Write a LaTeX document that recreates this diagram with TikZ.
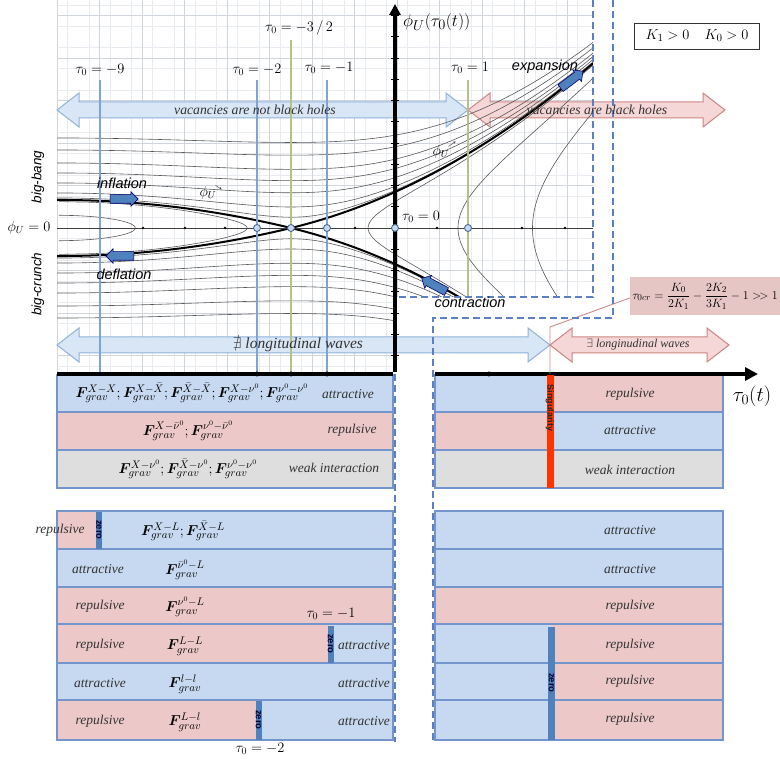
\documentclass[tikz,border=0pt]{standalone}
\usepackage{amsmath,amssymb,bm}
\usepackage{fontspec}
\setmainfont{Liberation Serif}
\setsansfont{Liberation Sans}
\usetikzlibrary{arrows.meta,shapes.arrows}
\definecolor{bluef}{HTML}{C6D9F0}
\definecolor{pinkf}{HTML}{EDC8C8}
\definecolor{grayf}{HTML}{DEDEDE}
\definecolor{rowline}{HTML}{7495CB}
\definecolor{zerob}{HTML}{4F81BD}
\definecolor{dashb}{HTML}{5B7FC4}
\definecolor{vblue}{HTML}{7FA3D3}
\definecolor{volive}{HTML}{B4C28A}
\definecolor{arrbf}{HTML}{D9E6F5}
\definecolor{arrbd}{HTML}{8FB2DC}
\definecolor{arrpf}{HTML}{F4D7D6}
\definecolor{arrpd}{HTML}{CB8683}
\definecolor{boxp}{HTML}{E6C6C5}
\definecolor{leadc}{HTML}{C98A86}
\definecolor{gridmin}{HTML}{E8EBF0}
\definecolor{gridmaj}{HTML}{D0D5DC}
\definecolor{flowarr}{HTML}{4F81BD}
\definecolor{txt}{HTML}{333333}
\definecolor{circd}{HTML}{4A6A9A}
\definecolor{singred}{HTML}{FF3300}
\newcommand\DArrow[4]{%
 \draw[#1] (#2,#4) -- ++(22,-17) -- ++(0,9) -- ({#3-22},{#4-8}) -- ++(0,-9) -- (#3,#4)
   -- ++(-22,17) -- ++(0,-9) -- ({#2+22},{#4+8}) -- ++(0,9) -- cycle;}
\begin{document}
\begin{tikzpicture}[x=1pt,y=-1pt,
  declare function={Sf(\w)=2.415*\w+(0.52+0.486*(\w>0))*\w*\w;
    wR(\s)=(-2.415+sqrt(5.832+4.024*\s))/2.012;
    wL(\s)=(-2.415+sqrt(max(5.832+2.08*\s,0)))/1.04;},
  flow/.style={draw=black!65, line width=0.6},
  sepx/.style={draw=black, line width=2},
  gmin/.style={draw=gridmin, line width=0.5},
  gmaj/.style={draw=gridmaj, line width=0.7},
  vb/.style={draw=vblue, line width=1.4},
  vo/.style={draw=volive, line width=1.4},
  dsh/.style={draw=dashb, line width=1.8, dash pattern=on 7pt off 4pt},
  cell/.style={draw=rowline, line width=1.1},
  arrb/.style={draw=arrbd, fill=arrbf, line width=1},
  arrp/.style={draw=arrpd, fill=arrpf, line width=1},
  atxt/.style={font=\itshape\fontsize{13.7}{15}\selectfont, text=txt, inner sep=0},
  ltxt/.style={font=\itshape\fontsize{13.5}{15}\selectfont, text=txt, inner sep=0},
  ftxt/.style={font=\fontsize{15}{17}\selectfont, inner sep=0},
  stxt/.style={font=\sffamily\itshape\fontsize{14.5}{16}\selectfont, inner sep=0},
  ztxt/.style={font=\sffamily\bfseries\fontsize{9.5}{10}\selectfont, text=black!80!blue, rotate=-90, inner sep=0},
  tlab/.style={font=\fontsize{14.5}{16}\selectfont, inner sep=0},
  circ/.style={circle, draw=circd, fill=bluef, line width=0.9, minimum size=7pt, inner sep=0},
  dotn/.style={circle, fill=black, minimum size=3pt, inner sep=0},
  farr/.style={single arrow, draw=blue!45!black, fill=flowarr, line width=0.6, minimum height=28pt, inner xsep=0pt, inner ysep=4pt, single arrow head extend=3pt}
]
\useasboundingbox (0,0) rectangle (780,759);
\fill[white] (0,0) rectangle (780,759);

% ---------- grid ----------
\begin{scope}
\clip (57,0) -- (593,0) -- (593,297) -- (395,297) -- (395,372) -- (57,372) -- cycle;
\foreach \i in {0,...,25} \draw[gmin] ({57+21.25*\i+10.625},0) -- ++(0,372);
\foreach \j in {-11,...,7} \draw[gmin] (57,{228+21.25*\j+10.625}) -- (593,{228+21.25*\j+10.625});
\foreach \i in {0,...,13} \draw[gmaj] ({57+42.5*\i},0) -- ++(0,372);
\foreach \j in {-6,...,4} \draw[gmaj] (57,{228+42.5*\j}) -- (593,{228+42.5*\j});
\end{scope}

% ---------- big arrows ----------
\DArrow{arrb}{57}{468}{110}
\DArrow{arrp}{468}{725}{110}
\DArrow{arrb}{57}{550}{345}
\DArrow{arrp}{550}{729}{345}

% ---------- phase curves ----------
\begin{scope}
\clip (57,0) -- (593,0) -- (593,297) -- (395,297) -- (395,332) -- (57,332) -- cycle;
\foreach \ka in {1.16,4.41,12.41,22.41,34.41,53,73.16}{
  \draw[flow] plot[domain=-2.34:3.02,samples=100] ({291+100*\x},{228-10*sqrt(Sf(\x)*Sf(\x)+\ka)});
  \draw[flow] plot[domain=-2.34:3.02,samples=100] ({291+100*\x},{228+10*sqrt(Sf(\x)*Sf(\x)+\ka)});
}
\foreach \kb in {2.46,6.84,11.7}{
  \draw[flow] plot[domain=-9:23,samples=120] ({291+100*wR(sqrt(\x*\x+\kb*\kb))},{228-10*\x});
}
\foreach \kb/\km in {2.5/1.28,0.96/2.64}{
  \draw[flow] plot[domain=-\km:\km,samples=80] ({291+100*wL(-sqrt(\x*\x+\kb*\kb))},{228-10*\x});
}
\draw[sepx] plot[domain=-2.34:3.02,samples=100] ({291+100*\x},{228-10*Sf(\x)});
\draw[sepx] plot[domain=-2.34:3.02,samples=100] ({291+100*\x},{228+10*Sf(\x)});
\end{scope}

% ---------- vertical reference lines ----------
\draw[vb] (100,80) -- (100,374);
\draw[vb] (257,80) -- (257,374);
\draw[vo] (291,40) -- (291,374);
\draw[vb] (327,80) -- (327,374);
\draw[vo] (468,80) -- (468,297);

% ---------- phi = 0 axis ----------
\draw[black!75, line width=0.7] (57,228) -- (593,228);
\foreach \x [count=\i] in {143,185,225,355,437,522,565} \node[dotn, minimum size=2.6pt] (d\i) at (\x,228) {};

% ---------- vertical axis ----------
\foreach \j in {-10,...,6} \draw[black, line width=0.8] (391,{228+21.25*\j}) -- (399,{228+21.25*\j});
\draw[black, line width=3.2, -{Triangle[length=11pt,width=11pt]}] (395,372) -- (395,4);
\foreach \x [count=\i] in {257,291,327,395,468} \node[circ] (c\i) at (\x,228) {};

% ---------- flow block arrows ----------
\node[farr] (ainf) at (122,199) {};
\node[farr, rotate=180] (adef) at (122,256) {};
\node[farr, rotate=37] (aexp) at (570,81) {};
\node[farr, rotate=152] (acon) at (436,286) {};

% ---------- table, group 1 ----------
\fill[bluef] (57,375) rectangle (393,412);
\fill[pinkf] (57,412) rectangle (393,450);
\fill[grayf] (57,450) rectangle (393,488);
\foreach \ya/\yb in {375/412,412/450,450/488} \draw[cell] (57,\ya) rectangle (393,\yb);
\fill[bluef] (435,375) rectangle (550,412);
\fill[pinkf] (550,375) rectangle (723,412);
\fill[pinkf] (435,412) rectangle (550,450);
\fill[bluef] (550,412) rectangle (723,450);
\fill[grayf] (435,450) rectangle (723,488);
\foreach \ya/\yb in {375/412,412/450,450/488} \draw[cell] (435,\ya) rectangle (723,\yb);

% ---------- table, group 2 ----------
\fill[bluef] (57,511) rectangle (393,549);
\fill[pinkf] (57,511) rectangle (96,549);
\fill[bluef] (57,549) rectangle (393,587);
\fill[pinkf] (57,587) rectangle (393,624);
\fill[bluef] (57,624) rectangle (393,663);
\fill[pinkf] (57,624) rectangle (328,663);
\fill[bluef] (57,663) rectangle (393,700);
\fill[bluef] (57,700) rectangle (393,740);
\fill[pinkf] (57,700) rectangle (256,740);
\foreach \ya/\yb in {511/549,549/587,587/624,624/663,663/700,700/740} \draw[cell] (57,\ya) rectangle (393,\yb);
\fill[zerob] (96,512) rectangle (102,548.5);
\fill[zerob] (327.5,626) rectangle (333.5,662.5);
\fill[zerob] (255.5,701) rectangle (261.5,739.5);

\fill[bluef] (435,511) rectangle (723,587);
\fill[pinkf] (435,587) rectangle (723,624);
\fill[bluef] (435,624) rectangle (551,740);
\fill[pinkf] (551,624) rectangle (723,740);
\foreach \ya/\yb in {511/549,549/587,587/624,624/663,663/700,700/740} \draw[cell] (435,\ya) rectangle (723,\yb);
\fill[zerob] (548,627) rectangle (555,739.5);

% ---------- tau axis ----------
\draw[black, line width=3.2] (57,374) -- (393,374);
\draw[black, line width=3.2, -{Triangle[length=13pt,width=13pt]}] (435,374) -- (758,374);
\foreach \x [count=\i] in {257,291,327} \node[dotn, minimum size=5pt] (t\i) at (\x,374) {};
\node[dotn, minimum size=5pt] (t4) at (489,374) {};

% ---------- singularity ----------
\fill[singred] (546.5,375) rectangle (553.5,488);
\node[font=\sffamily\bfseries\fontsize{9}{10}\selectfont, rotate=-90, text=black!85, inner sep=0] (sing) at (550,408) {Singularity};
\node[fill=boxp, minimum width=150pt, minimum height=38pt, inner sep=0, font=\fontsize{12.5}{14}\selectfont] (tcr) at (705,296)
  {$\tau_{0cr}=\dfrac{K_0}{2K_1}-\dfrac{2K_2}{3K_1}-1\mathrel{>\!>}1$};
\coordinate (bend) at (550,327);
\coordinate (sbase) at (550,374);
\draw[leadc, line width=0.9] ([yshift=-2pt]tcr.west) -- (bend) -- (sbase);

% ---------- dashed frames ----------
\draw[dsh] (593,0) -- (593,297) -- (395,297) -- (395,742);
\draw[dsh] (613,0) -- (613,318) -- (433,318) -- (433,742);
\draw[black, line width=3.2] (395,290) -- (395,372);
\foreach \j in {3,4,5} \draw[black, line width=0.8] (391,{228+21.25*\j}) -- (399,{228+21.25*\j});

% ---------- texts: top plot ----------
\node[font=\fontsize{19}{21}\selectfont, anchor=west, inner sep=0] (phiax) at (403,22) {$\phi_U(\tau_0(t))$};
\node[draw=black!80, line width=0.8, minimum width=125pt, minimum height=26pt, inner sep=0, font=\fontsize{15}{17}\selectfont] (kbox) at (697,36) {$K_1>0\quad K_0>0$};
\node[tlab] (lm9) at (100,70) {$\tau_0=-9$};
\node[tlab] (lm2) at (257,70) {$\tau_0=-2$};
\node[tlab] (lm32) at (299,28) {$\tau_0=-3\,/\,2$};
\node[tlab] (lm1) at (329,68) {$\tau_0=-1$};
\node[tlab] (lp1) at (470,68) {$\tau_0=1$};
\node[tlab] (l0) at (421,217) {$\tau_0=0$};
\node[font=\fontsize{14}{16}\selectfont, inner sep=0] (phi0) at (29,228) {$\phi_U=0$};
\node[stxt, font=\sffamily\itshape\fontsize{13.5}{15}\selectfont, rotate=90] (bb) at (38,177) {big-bang};
\node[stxt, font=\sffamily\itshape\fontsize{13.5}{15}\selectfont, rotate=90] (bc) at (38,284) {big-crunch};
\node[stxt] (tinf) at (122,183) {inflation};
\node[stxt] (tdef) at (124,274) {deflation};
\node[stxt] (texp) at (545,67) {expansion};
\node[stxt] (tcon) at (470,302) {contraction};
\node[font=\fontsize{14}{16}\selectfont, inner sep=0] (phiL) at (208,193) {$\phi_U$};
\node[font=\fontsize{14}{16}\selectfont, inner sep=0] (phiR) at (441,152) {$\phi_U$};
\draw[black!70, line width=0.5, -{Stealth[length=2.5pt,width=2.5pt]}] ([shift={(-1pt,1pt)}]phiL.north east) -- ++(6pt,-4pt);
\draw[black!70, line width=0.5, -{Stealth[length=2.5pt,width=2.5pt]}] ([shift={(-1pt,-1pt)}]phiR.north east) -- ++(7pt,5pt);
\node[atxt] (vnb) at (255,110) {vacancies are not black holes};
\node[atxt] (vb) at (597,110) {vacancies are black holes};
\node[atxt, font=\itshape\fontsize{15.5}{17}\selectfont] (nlw) at (298,345) {$\nexists$ longitudinal waves};
\node[atxt, font=\itshape\fontsize{12}{14}\selectfont] (elw) at (638,345) {$\exists$ longinudinal waves};
\node[font=\fontsize{22}{24}\selectfont, inner sep=0] (taux) at (752,396) {$\tau_0(t)$};

% ---------- texts: group 1 ----------
\node[ftxt] (f1) at (192,393) {$\bm F^{X-X}_{grav};\bm F^{X-\bar X}_{grav};\bm F^{\bar X-\bar X}_{grav};\bm F^{X-\nu^0}_{grav};\bm F^{\nu^0-\nu^0}_{grav}$};
\node[ltxt] (a1) at (348,394) {attractive};
\node[ftxt] (f2) at (188,431) {$\bm F^{X-\bar\nu^0}_{grav};\bm F^{\nu^0-\bar\nu^0}_{grav}$};
\node[ltxt] (r2) at (352,430) {repulsive};
\node[ftxt] (f3) at (188,469) {$\bm F^{X-\nu^0}_{grav};\bm F^{\bar X-\nu^0}_{grav};\bm F^{\nu^0-\nu^0}_{grav}$};
\node[ltxt] (w3) at (334,468) {weak interaction};
\node[ltxt] (r1r) at (630,394) {repulsive};
\node[ltxt] (a2r) at (630,430) {attractive};
\node[ltxt] (w3r) at (630,470) {weak interaction};

% ---------- texts: group 2 ----------
\node[ltxt] (gA) at (60,530) {repulsive};
\node[ztxt] (zA) at (99,530) {zero};
\node[ftxt] (fA) at (183,531) {$\bm F^{X-L}_{grav};\bm F^{\bar X-L}_{grav}$};
\node[ltxt] (gB) at (98,569) {attractive};
\node[ftxt] (fB) at (185,570) {$\bm F^{\bar\nu^0-L}_{grav}$};
\node[ltxt] (gC) at (100,606) {repulsive};
\node[ftxt] (fC) at (185,607) {$\bm F^{\nu^0-L}_{grav}$};
\node[tlab] (lt1) at (331,614) {$\tau_0=-1$};
\node[ltxt] (gD) at (100,645) {repulsive};
\node[ftxt] (fD) at (185,646) {$\bm F^{L-L}_{grav}$};
\node[ztxt] (zD) at (330.5,644) {zero};
\node[ltxt] (gD2) at (364,645) {attractive};
\node[ltxt] (gE) at (100,683) {attractive};
\node[ftxt] (fE) at (185,684) {$\bm F^{l-l}_{grav}$};
\node[ltxt] (gE2) at (364,683) {attractive};
\node[ltxt] (gF) at (100,721) {repulsive};
\node[ftxt] (fF) at (185,722) {$\bm F^{L-l}_{grav}$};
\node[ztxt] (zF) at (258.5,720) {zero};
\node[ltxt] (gF2) at (364,721) {attractive};
\node[tlab] (lt2) at (260,749) {$\tau_0=-2$};

\node[ltxt] (rA) at (630,530) {attractive};
\node[ltxt] (rB) at (630,569) {attractive};
\node[ltxt] (rC) at (630,606) {repulsive};
\node[ltxt] (rD) at (630,645) {repulsive};
\node[ltxt] (rE) at (630,681) {repulsive};
\node[ltxt] (rF) at (630,719) {repulsive};
\node[ztxt] (zR) at (551.5,683) {zero};
\end{tikzpicture}
\end{document}
